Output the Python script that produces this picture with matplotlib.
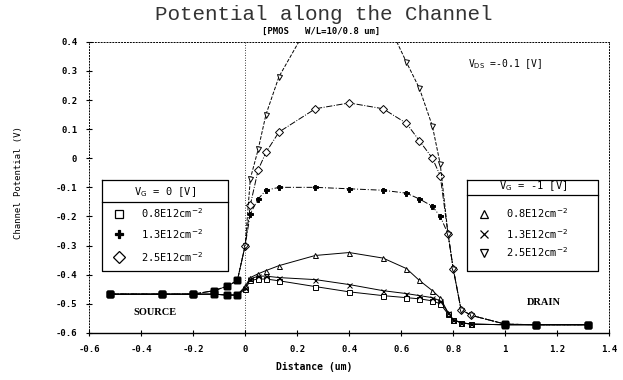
import numpy as np
import matplotlib.pyplot as plt

plt.rcParams['font.family'] = ['DejaVu Sans Mono']

# distance along the channel (um), same grid for every run
x_um = [-0.52, -0.32, -0.20, -0.12, -0.07, -0.03, 0.0, 0.02, 0.05, 0.08, 0.13,
        0.27, 0.40, 0.53, 0.62, 0.67, 0.72, 0.75, 0.78, 0.80, 0.83, 0.87,
        1.00, 1.12, 1.32]

# channel potential (V), VG = 0 V
vg0_08 = [-0.467, -0.467, -0.467, -0.467, -0.47, -0.47, -0.45, -0.42, -0.415,
          -0.415, -0.421, -0.441, -0.459, -0.472, -0.479, -0.483, -0.49, -0.50,
          -0.535, -0.555, -0.565, -0.57, -0.572, -0.572, -0.572]
vg0_13 = [-0.467, -0.467, -0.467, -0.455, -0.44, -0.42, -0.30, -0.19, -0.14,
          -0.11, -0.10, -0.10, -0.105, -0.11, -0.12, -0.14, -0.165, -0.20,
          -0.26, -0.38, -0.52, -0.54, -0.57, -0.572, -0.572]
vg0_25 = [-0.467, -0.467, -0.467, -0.455, -0.44, -0.42, -0.30, -0.16, -0.04,
          0.02, 0.09, 0.17, 0.19, 0.17, 0.12, 0.06, 0.0, -0.06,
          -0.26, -0.38, -0.52, -0.54, -0.57, -0.572, -0.572]

# channel potential (V), VG = -1 V
vgm1_08 = [-0.467, -0.467, -0.467, -0.467, -0.47, -0.47, -0.44, -0.41, -0.397,
           -0.386, -0.369, -0.334, -0.324, -0.343, -0.379, -0.42, -0.455, -0.48,
           -0.53, -0.555, -0.565, -0.57, -0.572, -0.572, -0.572]
vgm1_13 = [-0.467, -0.467, -0.467, -0.467, -0.47, -0.47, -0.445, -0.415, -0.405,
           -0.405, -0.41, -0.417, -0.434, -0.455, -0.465, -0.472, -0.479, -0.49,
           -0.53, -0.555, -0.565, -0.57, -0.572, -0.572, -0.572]
vgm1_25 = [-0.467, -0.467, -0.467, -0.455, -0.44, -0.42, -0.30, -0.07, 0.03,
           0.15, 0.28, 0.50, 0.56, 0.50, 0.33, 0.24, 0.11, -0.02,
           -0.26, -0.38, -0.52, -0.54, -0.57, -0.572, -0.572]

doping = ['0.8E12cm$^{-2}$', '1.3E12cm$^{-2}$', '2.5E12cm$^{-2}$']

runs = [
    # (values, marker, filled, linestyle)
    (vg0_08, 's', False, '-'),
    (vg0_13, 'P', True, (0, (6, 2, 1, 2))),
    (vg0_25, 'D', False, '-.'),
    (vgm1_08, '^', False, '-'),
    (vgm1_13, 'x', False, '-'),
    (vgm1_25, 'v', False, '--'),
]

fig = plt.figure(figsize=(6.23, 3.80), dpi=100)
ax = fig.add_axes([0.143, 0.124, 0.835, 0.766])

x = np.array(x_um)
ends = (x < 0) | (x > 0.95)
for vals, mk, filled, ls in runs:
    y = np.array(vals)
    ax.plot(x, y, color='k', lw=0.7, ls=ls)
    inner = ~ends
    ax.plot(x[inner], y[inner], ls='none', marker=mk, ms=3.6,
            mfc='k' if filled else 'white', mec='k', mew=0.7)
    ax.plot(x[ends], y[ends], ls='none', marker='s', ms=5, mfc='k', mec='k')

ax.set_xlim(-0.6, 1.4)
ax.set_ylim(-0.6, 0.4)
ax.set_xticks(np.arange(-0.6, 1.41, 0.2))
ax.set_xticklabels(['-0.6', '-0.4', '-0.2', '0', '0.2', '0.4', '0.6', '0.8',
                    '1', '1.2', '1.4'])
ax.set_yticks(np.arange(-0.6, 0.41, 0.1))
ax.set_yticklabels(['-0.6', '-0.5', '-0.4', '-0.3', '-0.2', '-0.1', '0',
                    '0.1', '0.2', '0.3', '0.4'])
ax.tick_params(direction='inout', length=5, width=0.8, labelsize=6.5, pad=6)
for lab in ax.get_xticklabels() + ax.get_yticklabels():
    lab.set_fontweight('bold')

for side in ['top', 'right', 'left']:
    ax.spines[side].set_linestyle((0, (1, 2)))
    ax.spines[side].set_linewidth(0.7)
ax.spines['bottom'].set_linewidth(1.0)
ax.axvline(0, color='k', lw=0.6, ls=(0, (1, 2)))

ax.text(-0.345, -0.53, 'SOURCE', ha='center', va='center', fontsize=7.5,
        fontweight='bold', family='Liberation Serif')
ax.text(1.15, -0.497, 'DRAIN', ha='center', va='center', fontsize=7.5,
        fontweight='bold', family='Liberation Serif')
ax.text(1.0, 0.325, 'V$_\\mathrm{DS}$ =-0.1 [V]', ha='center', va='center',
        fontsize=7)


def legend_box(x0, x1, head_y, sep_y, header, rows, markers, fills):
    top, bottom = -0.076, -0.386
    ax.plot([x0, x1, x1, x0, x0], [top, top, bottom, bottom, top],
            color='k', lw=0.9)
    ax.plot([x0, x1], [sep_y, sep_y], color='k', lw=0.9)
    ax.text((x0 + x1) / 2, head_y, header, ha='center', va='center',
            fontsize=7.5)
    for (ry, label), mk, filled in zip(rows, markers, fills):
        ax.plot([x0 + 0.065], [ry], ls='none', marker=mk, ms=6,
                mfc='k' if filled else 'white', mec='k', mew=0.9)
        ax.text(x0 + 0.15, ry, label, ha='left', va='center', fontsize=7.5)


legend_box(-0.55, -0.065, -0.117, -0.152, 'V$_\\mathrm{G}$ = 0 [V]',
           list(zip([-0.19, -0.262, -0.338], doping)), ['s', 'P', 'D'],
           [False, True, False])
legend_box(0.854, 1.358, -0.097, -0.128, 'V$_\\mathrm{G}$ = -1 [V]',
           list(zip([-0.19, -0.259, -0.324], doping)), ['^', 'x', 'v'],
           [False, False, False])

fig.text(0.52, 0.962, 'Potential along the Channel', ha='center', va='center',
         fontsize=15, family='Liberation Mono', color='#333333')
fig.text(0.515, 0.918, '[PMOS   W/L=10/0.8 um]', ha='center', va='center',
         fontsize=6.5, fontweight='bold')
fig.text(0.505, 0.035, 'Distance (um)', ha='center', va='center',
         fontsize=7, fontweight='bold')
fig.text(0.03, 0.52, 'Channel Potential (V)', ha='center', va='center',
         rotation=90, fontsize=6.5)

fig.savefig('out.png', dpi=100)
